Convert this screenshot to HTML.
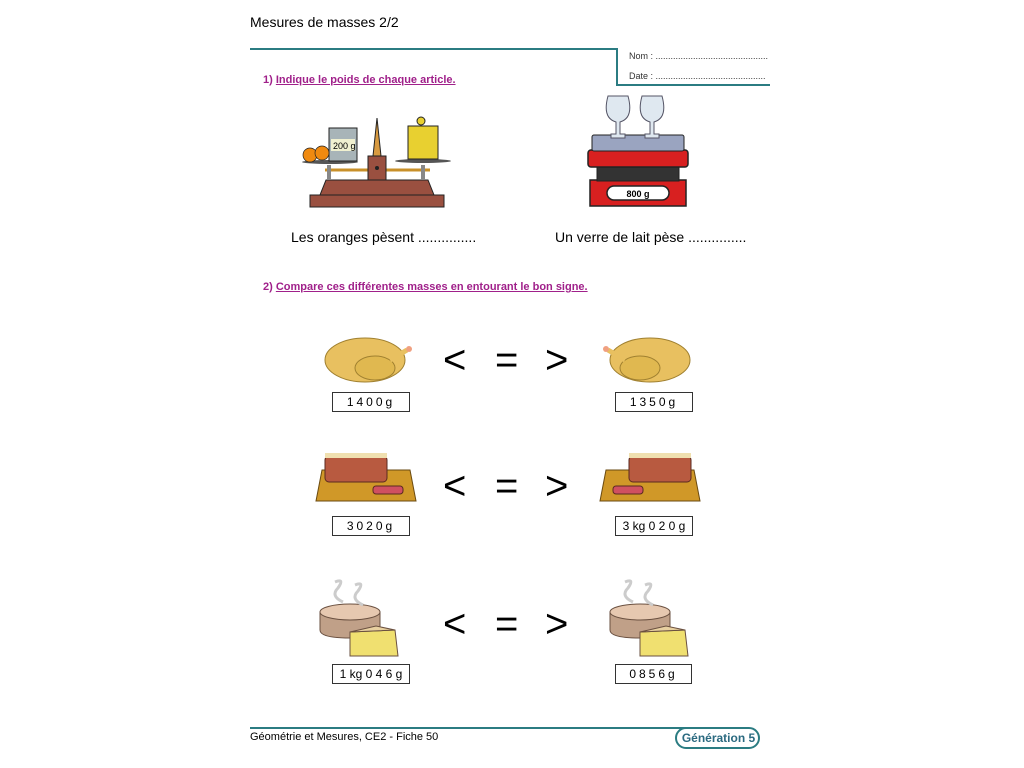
<!DOCTYPE html>
<html><head><meta charset="utf-8"><style>
body{margin:0;width:1024px;height:768px;background:#fff;position:relative;font-family:"Liberation Sans",sans-serif;overflow:hidden}
.a{position:absolute;white-space:nowrap}
.box{position:absolute;border:1.5px solid #333;height:18px;font-size:12px;line-height:18px;text-align:center;letter-spacing:3px;background:#fff;white-space:nowrap;overflow:hidden}
.sym{position:absolute;font-size:40px;line-height:40px;color:#000}
.q{color:#a0208a;font-weight:bold;font-size:11px}
.q u{text-decoration:underline}
</style></head><body>
<div class="a" style="left:250px;top:14px;font-size:14px">Mesures de masses 2/2</div>
<svg class="a" style="left:0;top:0" width="1024" height="768">
<polyline points="250,49 617,49 617,85 770,85" fill="none" stroke="#2b7c82" stroke-width="2"/>
<line x1="250" y1="728" x2="690" y2="728" stroke="#2b7c82" stroke-width="2"/>
<rect x="676" y="728" width="83" height="20" rx="10" fill="#fff" stroke="#2b7c82" stroke-width="2"/>
<!-- balance -->
<rect x="310" y="195" width="134" height="12" fill="#9a5040" stroke="#222"/>
<polygon points="320,195 434,195 428,180 326,180" fill="#9a5040" stroke="#222"/>
<line x1="325" y1="170" x2="430" y2="170" stroke="#c8902a" stroke-width="3"/>
<rect x="368" y="156" width="18" height="24" fill="#9a5040" stroke="#222"/>
<polygon points="377,118 373,156 381,156" fill="#d89a40" stroke="#222"/>
<circle cx="377" cy="168" r="2" fill="#222"/>
<rect x="327" y="165" width="4" height="15" fill="#888"/><rect x="421" y="165" width="4" height="15" fill="#888"/>
<ellipse cx="330" cy="162" rx="28" ry="2" fill="#555"/><ellipse cx="423" cy="161" rx="28" ry="2" fill="#555"/>
<rect x="329" y="128" width="28" height="33" fill="#a8b4b8" stroke="#222"/>
<rect x="331" y="139" width="24" height="12" fill="#f0f0d0"/>
<text x="333" y="149" font-size="9" font-family="Liberation Sans">200 g</text>
<circle cx="310" cy="155" r="7" fill="#f08a10" stroke="#222" stroke-width=".7"/><circle cx="322" cy="153" r="7" fill="#f08a10" stroke="#222" stroke-width=".7"/>
<rect x="408" y="126" width="30" height="33" fill="#e8d030" stroke="#222"/>
<circle cx="421" cy="121" r="4" fill="#e8d030" stroke="#222"/>
<!-- kitchen scale -->
<rect x="590" y="180" width="96" height="26" fill="#d82020" stroke="#222" stroke-width="1.5"/>
<rect x="597" y="165" width="82" height="16" fill="#333" stroke="#222"/>
<rect x="588" y="150" width="100" height="17" rx="3" fill="#d82020" stroke="#222" stroke-width="1.5"/>
<rect x="592" y="135" width="92" height="16" rx="2" fill="#9aa4c0" stroke="#222"/>
<rect x="607" y="186" width="62" height="14" rx="7" fill="#fff" stroke="#222" stroke-width="1.5"/>
<text x="638" y="197" font-size="9" font-weight="bold" text-anchor="middle" font-family="Liberation Sans">800 g</text>
<g fill="#dfe8f0" stroke="#556" stroke-width="1">
<path d="M608,96 h20 q6,22 -8,26 v12 h5 v4 h-14 v-4 h5 v-12 q-14,-4 -8,-26z"/>
<path d="M642,96 h20 q6,22 -8,26 v12 h5 v4 h-14 v-4 h5 v-12 q-14,-4 -8,-26z"/>
</g>
<!-- chickens -->
<g>
<ellipse cx="365" cy="360" rx="40" ry="22" fill="#e8c060" stroke="#a08030"/>
<ellipse cx="375" cy="368" rx="20" ry="12" fill="#e0b850" stroke="#a08030"/>
<line x1="390" y1="360" x2="407" y2="350" stroke="#e8c060" stroke-width="5"/>
<circle cx="409" cy="349" r="3" fill="#f0a080"/>
</g>
<g transform="translate(1015,0) scale(-1,1)">
<ellipse cx="365" cy="360" rx="40" ry="22" fill="#e8c060" stroke="#a08030"/>
<ellipse cx="375" cy="368" rx="20" ry="12" fill="#e0b850" stroke="#a08030"/>
<line x1="390" y1="360" x2="407" y2="350" stroke="#e8c060" stroke-width="5"/>
<circle cx="409" cy="349" r="3" fill="#f0a080"/>
</g>
<!-- meat -->
<polygon points="322,470 410,470 416,501 316,501" fill="#d09828" stroke="#6a4a10"/>
<rect x="325" y="456" width="62" height="26" rx="4" fill="#b85a40" stroke="#5a2a20"/>
<rect x="325" y="453" width="62" height="5" fill="#f0e0b0"/>
<rect x="373" y="486" width="30" height="8" rx="3" fill="#d05060" stroke="#5a2a20"/>
<g transform="translate(1016,0) scale(-1,1)">
<polygon points="322,470 410,470 416,501 316,501" fill="#d09828" stroke="#6a4a10"/>
<rect x="325" y="456" width="62" height="26" rx="4" fill="#b85a40" stroke="#5a2a20"/>
<rect x="325" y="453" width="62" height="5" fill="#f0e0b0"/>
<rect x="373" y="486" width="30" height="8" rx="3" fill="#d05060" stroke="#5a2a20"/>
</g>
<!-- cheese -->
<g>
<path d="M320,612 v18 q0,8 30,8 t30,-8 v-18z" fill="#c0a088" stroke="#6a5040"/>
<ellipse cx="350" cy="612" rx="30" ry="8" fill="#e6c8b0" stroke="#6a5040"/>
<polygon points="350,632 395,630 398,656 350,656" fill="#f0e070" stroke="#6a5040"/>
<polygon points="350,632 376,626 395,630" fill="#e8d0a0" stroke="#6a5040"/>
<path d="M335,582 q10,-4 3,6 q-8,8 5,14" fill="none" stroke="#ccc" stroke-width="3"/>
<path d="M355,585 q10,-4 3,6 q-8,8 5,14" fill="none" stroke="#ccc" stroke-width="3"/>
</g>
<g transform="translate(290,0)">
<path d="M320,612 v18 q0,8 30,8 t30,-8 v-18z" fill="#c0a088" stroke="#6a5040"/>
<ellipse cx="350" cy="612" rx="30" ry="8" fill="#e6c8b0" stroke="#6a5040"/>
<polygon points="350,632 395,630 398,656 350,656" fill="#f0e070" stroke="#6a5040"/>
<polygon points="350,632 376,626 395,630" fill="#e8d0a0" stroke="#6a5040"/>
<path d="M335,582 q10,-4 3,6 q-8,8 5,14" fill="none" stroke="#ccc" stroke-width="3"/>
<path d="M355,585 q10,-4 3,6 q-8,8 5,14" fill="none" stroke="#ccc" stroke-width="3"/>
</g>
</svg>
<div class="a" style="left:629px;top:51px;font-size:9px;color:#333">Nom : .............................................</div>
<div class="a" style="left:629px;top:71px;font-size:9px;color:#333">Date : ............................................</div>
<div class="a q" style="left:263px;top:74px">1) <u>Indique le poids de chaque article.</u></div>
<div class="a" style="left:291px;top:229px;font-size:14px">Les oranges pèsent ...............</div>
<div class="a" style="left:555px;top:229px;font-size:14px">Un verre de lait pèse ...............</div>
<div class="a q" style="left:263px;top:281px">2) <u>Compare ces différentes masses en entourant le bon signe.</u></div>

<div class="sym" style="left:443px;top:340px">&lt;</div><div class="sym" style="left:495px;top:340px">=</div><div class="sym" style="left:545px;top:340px">&gt;</div>
<div class="sym" style="left:443px;top:466px">&lt;</div><div class="sym" style="left:495px;top:466px">=</div><div class="sym" style="left:545px;top:466px">&gt;</div>
<div class="sym" style="left:443px;top:604px">&lt;</div><div class="sym" style="left:495px;top:604px">=</div><div class="sym" style="left:545px;top:604px">&gt;</div>

<div class="box" style="left:332px;top:392px;width:76px">1400g</div>
<div class="box" style="left:615px;top:392px;width:76px">1350g</div>
<div class="box" style="left:332px;top:516px;width:76px">3020g</div>
<div class="box" style="left:615px;top:516px;width:76px;letter-spacing:0">3 kg 0 2 0 g</div>
<div class="box" style="left:332px;top:664px;width:76px;letter-spacing:0">1 kg 0 4 6 g</div>
<div class="box" style="left:615px;top:664px;width:75px">0856g</div>

<div class="a" style="left:250px;top:731px;font-size:11px">Géométrie et Mesures, CE2 - Fiche 50</div>
<div class="a" style="left:676px;top:731px;width:85px;text-align:center;font-size:12px;font-weight:bold;color:#2b6a80">Génération 5</div>
</body></html>
